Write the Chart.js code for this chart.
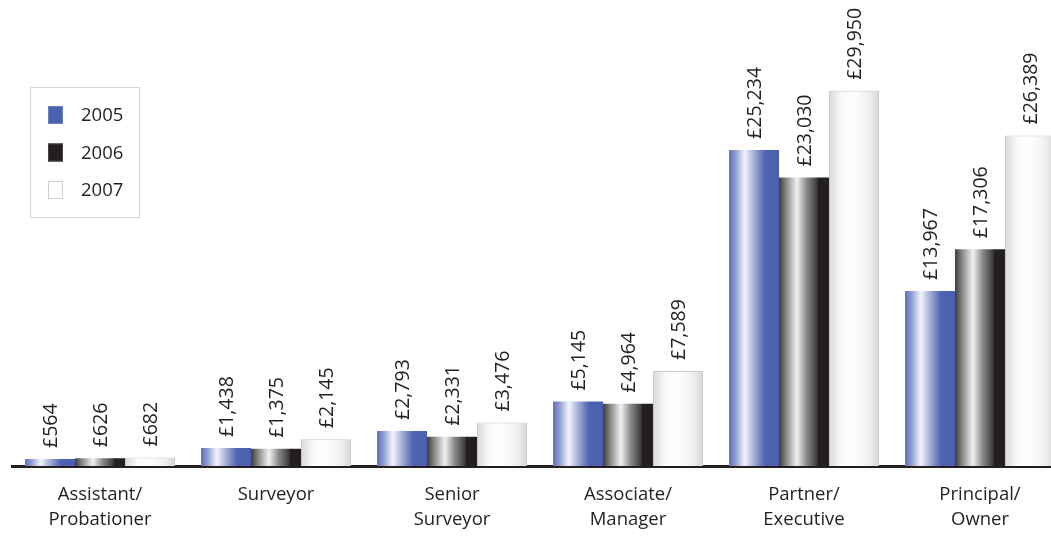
<!DOCTYPE html>
<html>
<head>
<meta charset="utf-8">
<script src="https://cdn.jsdelivr.net/npm/chart.js@4"></script>
<style>
  html, body { margin: 0; padding: 0; background: #fff; overflow: hidden; }
  #wrap { width: 1070px; height: 536px; }
</style>
</head>
<body>
<div id="wrap"><canvas id="grafico"></canvas></div>
<script>
// salary increase by role, three years
const categorias = [
  ["Assistant/", "Probationer"],
  "Surveyor",
  ["Senior", "Surveyor"],
  ["Associate/", "Manager"],
  ["Partner/", "Executive"],
  ["Principal/", "Owner"],
];
const anios = ["2005", "2006", "2007"];
const valores2005 = [564, 1438, 2793, 5145, 25234, 13967];
const valores2006 = [626, 1375, 2331, 4964, 23030, 17306];
const valores2007 = [682, 2145, 3476, 7589, 29950, 26389];

const tinta = "#231f20";
const fuente = "'Open Sans', sans-serif";

// colour stops for the cylinder look of each series
const paradas = [
  [[0, "#5f70b8"], [0.14, "#95a1d3"], [0.32, "#f4f5fb"], [0.5, "#a3add9"], [0.72, "#4d64b0"], [1, "#4862af"]],
  [[0, "#3c3c3c"], [0.18, "#9b9b9b"], [0.36, "#f2f2f2"], [0.55, "#8a8a8a"], [0.76, "#3d3d3d"], [0.79, "#231f20"], [1, "#231f20"]],
  [[0, "#d9d9d9"], [0.25, "#fbfbfb"], [0.5, "#ffffff"], [0.8, "#f0f0f0"], [1, "#d6d6d6"]],
];
const planos = ["#4a63b0", "#231f20", "#ffffff"];

const CAT_PCT = 0.852;

function degradado(context) {
  const chart = context.chart;
  const x = chart.scales.x;
  if (!chart.chartArea || !x || context.dataIndex === undefined) return planos[context.datasetIndex];
  const ancho = (x.width / categorias.length) * CAT_PCT;
  const barra = ancho / anios.length;
  const centro = x.getPixelForValue(context.dataIndex);
  const izq = centro - ancho / 2 + barra * context.datasetIndex;
  const g = chart.ctx.createLinearGradient(izq, 0, izq + barra, 0);
  paradas[context.datasetIndex].forEach(([p, c]) => g.addColorStop(p, c));
  return g;
}

const etiquetasValor = {
  id: "etiquetasValor",
  afterDatasetsDraw(chart) {
    const ctx = chart.ctx;
    ctx.save();
    ctx.font = "19.5px " + fuente;
    ctx.fillStyle = tinta;
    ctx.textAlign = "left";
    ctx.textBaseline = "middle";
    chart.data.datasets.forEach((ds, i) => {
      chart.getDatasetMeta(i).data.forEach((bar, j) => {
        const txt = "£" + ds.data[j].toLocaleString("en-GB");
        ctx.save();
        ctx.translate(bar.x + 1, bar.y - 11);
        ctx.rotate(-Math.PI / 2);
        ctx.fillText(txt, 0, 0);
        ctx.restore();
      });
    });
    ctx.restore();
  },
};

const leyenda = {
  id: "leyenda",
  afterDraw(chart) {
    const ctx = chart.ctx;
    ctx.save();
    ctx.strokeStyle = "#d4d4d4";
    ctx.lineWidth = 1;
    ctx.strokeRect(30.5, 87.5, 109, 130);
    ctx.font = "18.5px " + fuente;
    ctx.textBaseline = "middle";
    anios.forEach((a, i) => {
      const y = 115 + i * 37.5;
      ctx.fillStyle = planos[i];
      ctx.fillRect(48, y - 9, 15, 18);
      ctx.strokeStyle = i === 2 ? "#cfcfcf" : (i === 0 ? "#6a7fc0" : "#444");
      ctx.strokeRect(48.5, y - 8.5, 14, 17);
      ctx.fillStyle = tinta;
      ctx.fillText(a, 81, y + 1);
    });
    ctx.restore();
  },
};

new Chart(document.getElementById("grafico"), {
  type: "bar",
  data: {
    labels: categorias,
    datasets: [
      { label: anios[0], data: valores2005 },
      { label: anios[1], data: valores2006 },
      { label: anios[2], data: valores2007, borderColor: "#c9c9c9", borderWidth: 1 },
    ],
  },
  options: {
    responsive: true,
    maintainAspectRatio: false,
    animation: false,
    devicePixelRatio: 1,
    layout: { padding: { left: 12, right: 2, top: 0, bottom: 0 } },
    datasets: {
      bar: {
        backgroundColor: degradado,
        categoryPercentage: CAT_PCT,
        barPercentage: 1,
        borderSkipped: "bottom",
      },
    },
    scales: {
      x: {
        grid: { display: false, drawTicks: false },
        border: { color: tinta, width: 3 },
        ticks: {
          color: tinta,
          padding: 16,
          font: { family: fuente, size: 18.5, lineHeight: 1.35 },
          maxRotation: 0,
        },
        afterFit(scale) { scale.height = 70; },
      },
      y: { display: false, min: 0, max: 37200 },
    },
    plugins: {
      legend: { display: false },
      tooltip: { enabled: false },
    },
  },
  plugins: [etiquetasValor, leyenda],
});
</script>
</body>
</html>
